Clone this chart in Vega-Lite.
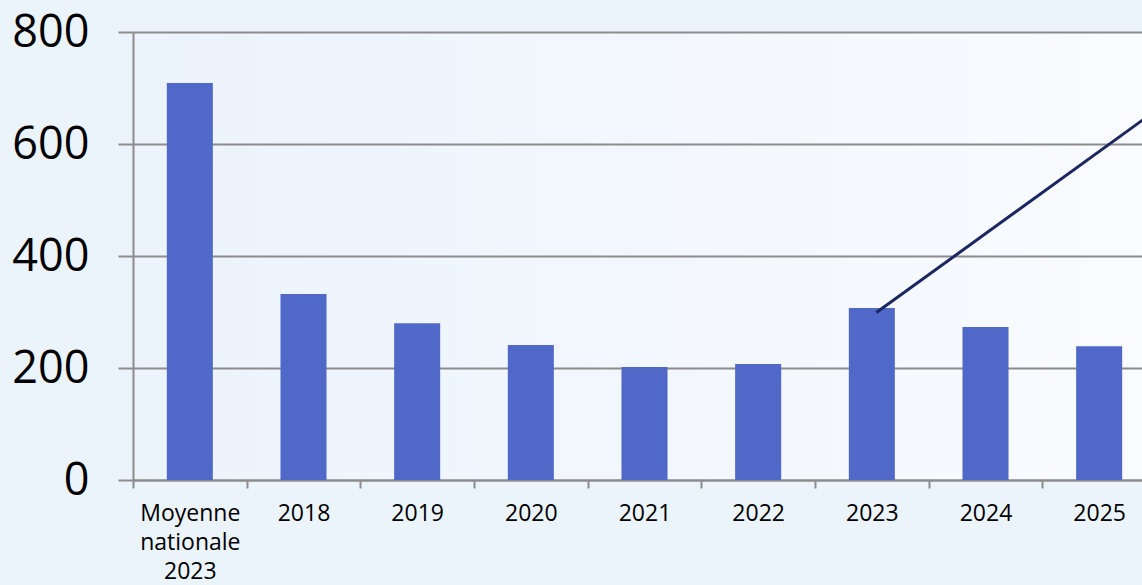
{
  "$schema": "https://vega.github.io/schema/vega-lite/v6.json",
  "width": 1009,
  "height": 448,
  "autosize": {"type": "none"},
  "padding": {"left": 133, "top": 32, "right": 0, "bottom": 105},
  "background": "#ebf3fb",
  "config": {
    "view": {
      "stroke": null,
      "fill": {
        "gradient": "linear",
        "x1": 0, "y1": 0, "x2": 1, "y2": 0,
        "stops": [
          {"offset": 0, "color": "#ebf3fb"},
          {"offset": 0.5, "color": "#f2f7fd"},
          {"offset": 1, "color": "#f9fbfe"}
        ]
      }
    }
  },
  "datasets": {
    "bars": [
      {"categorie": "Moyenne nationale 2023", "valeur": 709},
      {"categorie": "2018", "valeur": 332},
      {"categorie": "2019", "valeur": 280},
      {"categorie": "2020", "valeur": 241},
      {"categorie": "2021", "valeur": 202},
      {"categorie": "2022", "valeur": 207},
      {"categorie": "2023", "valeur": 307},
      {"categorie": "2024", "valeur": 273},
      {"categorie": "2025", "valeur": 239}
    ],
    "annotation": [
      {"depart": "2023", "arrivee": "2025", "debut": 299, "fin": 660}
    ]
  },
  "layer": [
    {
      "data": {"name": "bars"},
      "mark": {"type": "bar", "color": "#5068c8", "width": {"band": 0.405}},
      "encoding": {
        "x": {
          "field": "categorie",
          "type": "nominal",
          "sort": null,
          "scale": {"range": [0, 1023], "paddingInner": 0, "paddingOuter": 0},
          "axis": {
            "title": null,
            "labelAngle": 0,
            "labelFont": "Open Sans",
            "labelFontSize": 23,
            "labelColor": "#000000",
            "labelPadding": 14,
            "labelLineHeight": 29,
            "labelExpr": "datum.value ? split(datum.value, ' ') : ''",
            "labelLimit": 300,
            "tickBand": "extent",
            "tickSize": 8,
            "tickColor": "#8c8c8c",
            "tickWidth": 2,
            "domainColor": "#8c8c8c",
            "domainWidth": 2,
            "grid": false
          }
        },
        "y": {
          "field": "valeur",
          "type": "quantitative",
          "scale": {"domain": [0, 800]},
          "axis": {
            "title": null,
            "values": [0, 200, 400, 600, 800],
            "labelFont": "Open Sans",
            "labelFontSize": 45,
            "labelColor": "#000000",
            "labelPadding": 29,
            "tickSize": 15,
            "tickColor": "#8c8c8c",
            "tickWidth": 2,
            "domainColor": "#8c8c8c",
            "domainWidth": 2,
            "grid": true,
            "gridColor": "#8c8c8c",
            "gridWidth": 2
          }
        }
      }
    },
    {
      "data": {"name": "annotation"},
      "mark": {"type": "rule", "color": "#1c2660", "strokeWidth": 3},
      "encoding": {
        "x": {"field": "depart", "type": "nominal", "sort": null, "bandPosition": 0.54},
        "x2": {"field": "arrivee", "bandPosition": 1},
        "y": {"field": "debut", "type": "quantitative"},
        "y2": {"field": "fin"}
      }
    }
  ]
}
